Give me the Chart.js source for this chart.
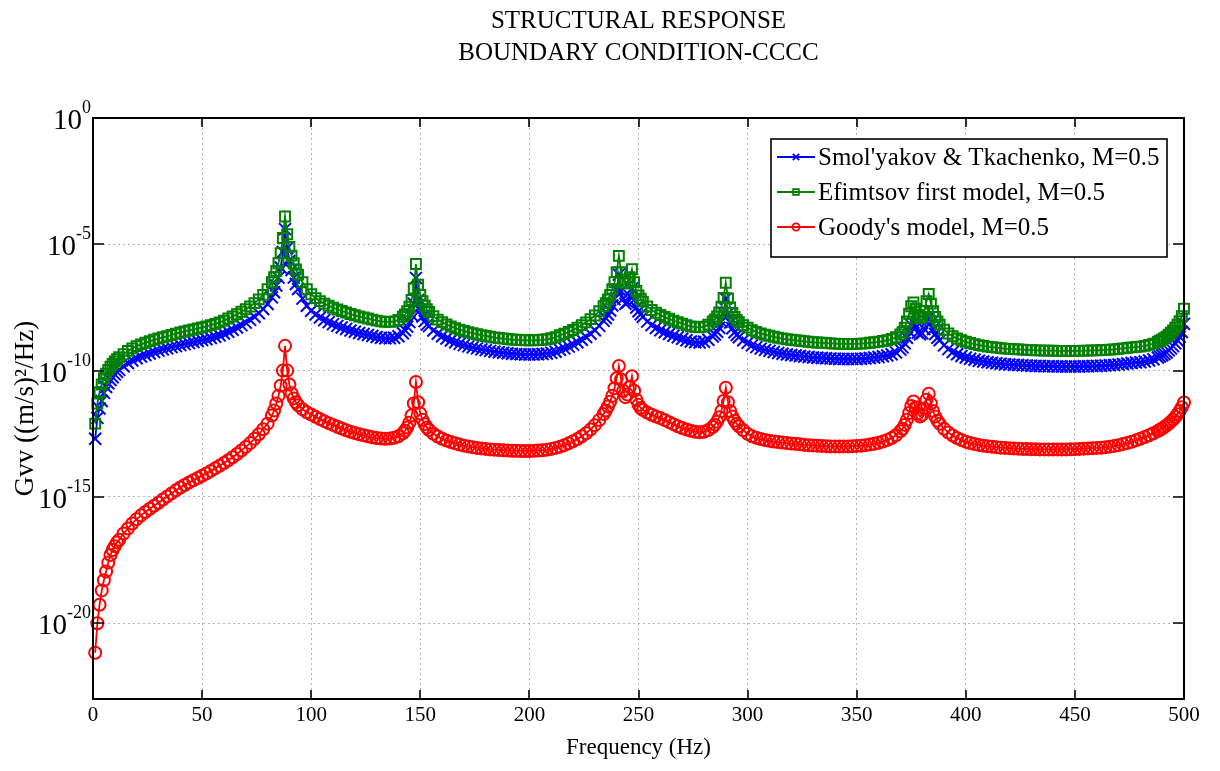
<!DOCTYPE html>
<html>
<head>
<meta charset="utf-8">
<title>Structural response - CCCC</title>
<script src="https://cdn.jsdelivr.net/npm/chart.js@4.4.1/dist/chart.umd.min.js"></script>
<style>
  html, body { margin: 0; padding: 0; background: #fff; }
  #wrap { width: 1220px; height: 771px; position: relative; }
</style>
</head>
<body>
<div id="wrap"><canvas id="gvv"></canvas></div>
<script>
const SERIF = "'Liberation Serif', 'Times New Roman', serif";

const titleLines = ['STRUCTURAL RESPONSE', 'BOUNDARY CONDITION-CCCC'];
const seriesNames = ["Smol'yakov & Tkachenko, M=0.5", 'Efimtsov first model, M=0.5', "Goody's model, M=0.5"];
const xTicksHz = [0, 50, 100, 150, 200, 250, 300, 350, 400, 450, 500];
const yTickExps = [0, -5, -10, -15, -20];

// frequency samples (Hz), finer around the resonances
const freqHz = [
  1, 2, 3, 4, 5, 6, 7, 8, 9, 10, 11, 12,
  14, 16, 18, 20, 22, 24, 26, 28, 30, 32, 34, 36, 38, 40, 42, 44, 46, 48,
  50, 52, 54, 56, 58, 60, 62, 64, 66, 68, 70, 72, 74, 76, 78, 80, 82,
  83, 84, 85, 86, 87, 88, 89, 90, 91, 92, 93, 94,
  96, 98, 100, 102, 104, 106, 108, 110, 112, 114, 116, 118, 120, 122, 124, 126, 128, 130, 132, 134, 136, 138, 140, 142,
  143, 144, 145, 146, 147, 148, 149, 150, 151, 152, 153,
  154, 156, 158, 160, 162, 164, 166, 168, 170, 172, 174, 176, 178, 180, 182, 184, 186, 188, 190, 192, 194,
  196, 198, 200, 202, 204, 206, 208, 210, 212, 214, 216, 218, 220, 222, 224, 226, 228, 230, 232, 234,
  235, 236, 237, 238, 239, 240, 241, 242, 243, 244, 245, 246, 247, 248, 249, 250, 251,
  252, 254, 256, 258, 260, 262, 264, 266, 268, 270, 272, 274, 276, 278, 280, 282, 284,
  285, 286, 287, 288, 289, 290, 291, 292, 293, 294, 295,
  296, 298, 300, 302, 304, 306, 308, 310, 312, 314, 316, 318, 320, 322, 324, 326, 328, 330, 332, 334,
  336, 338, 340, 342, 344, 346, 348, 350, 352, 354, 356, 358, 360, 362, 364, 366, 368, 370,
  371, 372, 373, 374, 375, 376, 377, 378, 379, 380, 381, 382, 383, 384, 385, 386, 387, 388,
  390, 392, 394, 396, 398, 400, 402, 404, 406, 408, 410, 412, 414, 416, 418, 420, 422, 424, 426, 428, 430, 432, 434, 436, 438,
  440, 442, 444, 446, 448, 450, 452, 454, 456, 458, 460, 462, 464, 466, 468, 470, 472, 474, 476, 478, 480, 482, 484, 486, 488,
  489, 490, 491, 492, 493, 494, 495, 496, 497, 498, 499, 500
];

// log10 of Gvv, Smol'yakov & Tkachenko
const smolyakovLog = [
  -12.7, -11.87, -11.5, -11.2, -10.88, -10.65, -10.5, -10.37, -10.26, -10.15, -10.05, -9.97,
  -9.83, -9.7, -9.6, -9.51, -9.44, -9.38, -9.32, -9.26, -9.21, -9.16, -9.12, -9.07, -9.03, -8.99, -8.95, -8.91, -8.87, -8.83,
  -8.79, -8.76, -8.71, -8.66, -8.6, -8.53, -8.46, -8.38, -8.29, -8.2, -8.1, -7.99, -7.87, -7.73, -7.56, -7.36, -7.1,
  -6.9, -6.63, -6.32, -5.92, -5.3, -4.4, -5.15, -5.66, -6.02, -6.32, -6.57, -6.77,
  -7.15, -7.43, -7.63, -7.78, -7.9, -8.0, -8.08, -8.16, -8.23, -8.29, -8.35, -8.41, -8.46, -8.51, -8.55, -8.59, -8.63, -8.67, -8.7, -8.72, -8.72, -8.7, -8.64, -8.52,
  -8.4, -8.26, -8.08, -7.8, -7.35, -6.33, -7.2, -7.6, -7.86, -8.04, -8.18,
  -8.24, -8.41, -8.54, -8.64, -8.73, -8.81, -8.88, -8.94, -8.99, -9.04, -9.08, -9.12, -9.16, -9.19, -9.22, -9.25, -9.27, -9.29, -9.31, -9.33, -9.34,
  -9.35, -9.36, -9.36, -9.36, -9.35, -9.34, -9.32, -9.29, -9.25, -9.18, -9.12, -9.05, -8.97, -8.88, -8.78, -8.67, -8.54, -8.4, -8.23, -8.03,
  -7.92, -7.78, -7.62, -7.42, -7.17, -6.8, -6.2, -6.85, -7.15, -7.35, -7.3, -7.05, -6.75, -7.2, -7.5, -7.65, -7.77,
  -7.87, -8.06, -8.2, -8.31, -8.4, -8.48, -8.55, -8.62, -8.68, -8.74, -8.8, -8.85, -8.88, -8.89, -8.86, -8.78, -8.65,
  -8.57, -8.46, -8.3, -8.07, -7.72, -7.15, -7.74, -8.1, -8.32, -8.48, -8.59,
  -8.68, -8.8, -8.9, -9.0, -9.07, -9.13, -9.18, -9.22, -9.26, -9.3, -9.33, -9.36, -9.38, -9.4, -9.42, -9.44, -9.46, -9.48, -9.49, -9.5,
  -9.51, -9.52, -9.53, -9.54, -9.54, -9.54, -9.54, -9.54, -9.53, -9.52, -9.5, -9.48, -9.46, -9.43, -9.4, -9.35, -9.28, -9.17,
  -9.08, -8.92, -8.7, -8.45, -8.2, -8.1, -8.3, -8.5, -8.56, -8.52, -8.35, -8.05, -7.9, -8.1, -8.35, -8.55, -8.7, -8.8,
  -9.0, -9.15, -9.26, -9.35, -9.42, -9.48, -9.53, -9.57, -9.61, -9.64, -9.67, -9.69, -9.71, -9.73, -9.75, -9.76, -9.77, -9.78, -9.79, -9.8, -9.81, -9.82, -9.82, -9.83, -9.83,
  -9.83, -9.84, -9.84, -9.84, -9.84, -9.84, -9.84, -9.83, -9.83, -9.82, -9.82, -9.81, -9.8, -9.79, -9.78, -9.76, -9.74, -9.72, -9.7, -9.68, -9.67, -9.64, -9.6, -9.55, -9.48,
  -9.44, -9.39, -9.34, -9.28, -9.2, -9.12, -9.03, -8.92, -8.8, -8.66, -8.47, -8.15
];

// log10 of Gvv, Efimtsov first model
const efimtsovLog = [
  -12.1, -11.3, -10.85, -10.55, -10.3, -10.12, -9.97, -9.85, -9.74, -9.64, -9.55, -9.47,
  -9.35, -9.22, -9.12, -9.03, -8.96, -8.9, -8.84, -8.78, -8.73, -8.68, -8.64, -8.59, -8.54, -8.49, -8.45, -8.41, -8.37, -8.33,
  -8.29, -8.25, -8.2, -8.15, -8.09, -8.02, -7.94, -7.86, -7.77, -7.67, -7.57, -7.46, -7.33, -7.18, -7.0, -6.78, -6.5,
  -6.3, -6.05, -5.75, -5.35, -4.75, -3.9, -4.6, -5.1, -5.45, -5.75, -6.0, -6.2,
  -6.5, -6.78, -6.98, -7.13, -7.25, -7.35, -7.43, -7.51, -7.58, -7.64, -7.7, -7.76, -7.81, -7.86, -7.9, -7.94, -7.98, -8.02, -8.05, -8.07, -8.07, -8.05, -7.99, -7.87,
  -7.78, -7.65, -7.47, -7.2, -6.75, -5.78, -6.6, -7.0, -7.25, -7.43, -7.57,
  -7.68, -7.85, -7.98, -8.08, -8.17, -8.25, -8.32, -8.38, -8.43, -8.48, -8.52, -8.56, -8.6, -8.63, -8.66, -8.69, -8.71, -8.73, -8.75, -8.77, -8.78,
  -8.79, -8.8, -8.8, -8.8, -8.79, -8.78, -8.76, -8.72, -8.68, -8.6, -8.54, -8.47, -8.39, -8.3, -8.2, -8.09, -7.96, -7.82, -7.65, -7.45,
  -7.33, -7.18, -7.0, -6.78, -6.5, -6.1, -5.46, -6.1, -6.4, -6.55, -6.5, -6.3, -5.99, -6.5, -6.85, -7.02, -7.15,
  -7.27, -7.46, -7.6, -7.71, -7.8, -7.88, -7.95, -8.02, -8.08, -8.14, -8.2, -8.25, -8.28, -8.29, -8.26, -8.18, -8.05,
  -7.97, -7.86, -7.7, -7.47, -7.12, -6.52, -7.14, -7.5, -7.72, -7.88, -7.99,
  -8.08, -8.2, -8.3, -8.4, -8.47, -8.53, -8.58, -8.62, -8.66, -8.7, -8.73, -8.76, -8.78, -8.8, -8.82, -8.84, -8.86, -8.88, -8.89, -8.9,
  -8.91, -8.92, -8.93, -8.94, -8.94, -8.94, -8.94, -8.94, -8.93, -8.92, -8.9, -8.88, -8.86, -8.83, -8.8, -8.75, -8.68, -8.57,
  -8.48, -8.3, -8.05, -7.75, -7.45, -7.3, -7.55, -7.8, -7.92, -7.88, -7.65, -7.25, -6.97, -7.35, -7.65, -7.88, -8.05, -8.18,
  -8.38, -8.53, -8.64, -8.73, -8.8, -8.86, -8.91, -8.95, -8.99, -9.02, -9.05, -9.07, -9.09, -9.11, -9.13, -9.14, -9.15, -9.16, -9.17, -9.18, -9.19, -9.2, -9.2, -9.21, -9.21,
  -9.21, -9.22, -9.22, -9.22, -9.22, -9.22, -9.22, -9.21, -9.21, -9.2, -9.2, -9.19, -9.18, -9.17, -9.16, -9.14, -9.12, -9.1, -9.08, -9.06, -9.05, -9.02, -8.98, -8.93, -8.86,
  -8.82, -8.77, -8.72, -8.66, -8.58, -8.5, -8.41, -8.3, -8.18, -8.04, -7.85, -7.55
];

// log10 of Gvv, Goody's model
const goodyLog = [
  -21.17, -20.0, -19.27, -18.7, -18.3, -17.95, -17.6, -17.3, -17.1, -16.95, -16.8, -16.7,
  -16.45, -16.25, -16.05, -15.88, -15.73, -15.6, -15.47, -15.35, -15.23, -15.1, -14.98, -14.86, -14.74, -14.63, -14.53, -14.43, -14.34, -14.25,
  -14.16, -14.07, -13.97, -13.87, -13.77, -13.66, -13.55, -13.43, -13.3, -13.16, -13.02, -12.87, -12.7, -12.52, -12.32, -12.1, -11.78,
  -11.58, -11.3, -11.0, -10.6, -10.0, -9.02, -10.0, -10.55, -10.9, -11.1, -11.25, -11.37,
  -11.53, -11.65, -11.74, -11.83, -11.92, -12.0, -12.08, -12.15, -12.22, -12.29, -12.36, -12.42, -12.47, -12.52, -12.56, -12.6, -12.64, -12.67, -12.69, -12.7, -12.69, -12.66, -12.6, -12.48,
  -12.38, -12.25, -12.06, -11.78, -11.3, -10.45, -11.25, -11.7, -11.95, -12.12, -12.25,
  -12.35, -12.5, -12.61, -12.7, -12.77, -12.83, -12.88, -12.93, -12.97, -13.0, -13.03, -13.06, -13.08, -13.1, -13.12, -13.13, -13.14, -13.15, -13.16, -13.17, -13.17,
  -13.18, -13.18, -13.18, -13.17, -13.16, -13.15, -13.13, -13.1, -13.06, -13.01, -12.95, -12.88, -12.8, -12.71, -12.6, -12.48, -12.33, -12.16, -11.96, -11.72,
  -11.58, -11.42, -11.23, -11.0, -10.7, -10.3, -9.82, -10.35, -10.8, -11.05, -10.95, -10.65, -10.22, -10.8, -11.15, -11.35, -11.48,
  -11.56, -11.66, -11.75, -11.82, -11.88, -11.96, -12.04, -12.12, -12.2, -12.27, -12.33, -12.38, -12.42, -12.44, -12.42, -12.35, -12.23,
  -12.14, -12.02, -11.85, -11.6, -11.2, -10.68, -11.25, -11.6, -11.82, -11.98, -12.1,
  -12.2, -12.36, -12.5, -12.6, -12.66, -12.71, -12.75, -12.78, -12.81, -12.83, -12.85, -12.87, -12.89, -12.9, -12.92, -12.94, -12.95, -12.96, -12.97, -12.98,
  -12.99, -13.0, -13.0, -13.0, -13.0, -13.0, -12.99, -12.98, -12.97, -12.95, -12.93, -12.9, -12.86, -12.81, -12.75, -12.67, -12.56, -12.4,
  -12.3, -12.15, -11.95, -11.68, -11.4, -11.22, -11.45, -11.7, -11.82, -11.75, -11.5, -11.15, -10.92, -11.3, -11.6, -11.82, -11.98, -12.1,
  -12.3, -12.45, -12.57, -12.67, -12.75, -12.82, -12.87, -12.91, -12.94, -12.97, -12.99, -13.01, -13.03, -13.05, -13.06, -13.07, -13.08, -13.09, -13.1, -13.1, -13.11, -13.11, -13.12, -13.12, -13.12,
  -13.12, -13.12, -13.12, -13.12, -13.11, -13.11, -13.1, -13.09, -13.08, -13.07, -13.06, -13.05, -13.03, -13.01, -12.98, -12.95, -12.91, -12.87, -12.82, -12.76, -12.7, -12.63, -12.56, -12.48, -12.39,
  -12.34, -12.29, -12.23, -12.17, -12.1, -12.02, -11.94, -11.84, -11.73, -11.6, -11.45, -11.26
];

const toPoints = (logs) => freqHz.map((f, i) => ({ x: f, y: Math.pow(10, logs[i]) }));

function series(label, logs, color, style, radius, legendRadius, order) {
  return {
    label,
    data: toPoints(logs),
    borderColor: color,
    borderWidth: 1.8,
    backgroundColor: color,
    pointStyle: style,
    pointRadius: radius,
    pointBorderColor: color,
    pointBackgroundColor: 'rgba(0,0,0,0)',
    pointBorderWidth: 2,
    tension: 0,
    fill: false,
    clip: 8,
    order,
    legendRadius
  };
}

const datasets = [
  series(seriesNames[0], smolyakovLog, '#0000ff', 'crossRot', 8.5, 4.5, 3),
  series(seriesNames[1], efimtsovLog, '#008000', 'rect', 7, 4, 2),
  series(seriesNames[2], goodyLog, '#ff0000', 'circle', 6, 3.6, 1)
];

// box, inward ticks, 10^n labels and the in-plot legend
const framePlugin = {
  id: 'frame',
  afterDraw(chart) {
    const { ctx, chartArea: a, scales: { x, y } } = chart;
    ctx.save();

    ctx.strokeStyle = '#000';
    ctx.lineWidth = 2;
    ctx.strokeRect(a.left, a.top, a.right - a.left, a.bottom - a.top);

    ctx.lineWidth = 1.6;
    ctx.beginPath();
    xTicksHz.forEach(v => {
      const px = Math.round(x.getPixelForValue(v));
      ctx.moveTo(px, a.bottom); ctx.lineTo(px, a.bottom - 9);
      ctx.moveTo(px, a.top); ctx.lineTo(px, a.top + 9);
    });
    yTickExps.forEach(e => {
      const py = Math.round(y.getPixelForValue(Math.pow(10, e)));
      ctx.moveTo(a.left, py); ctx.lineTo(a.left + 11, py);
      ctx.moveTo(a.right, py); ctx.lineTo(a.right - 11, py);
    });
    ctx.stroke();

    ctx.fillStyle = '#000';
    ctx.textAlign = 'right';
    ctx.textBaseline = 'alphabetic';
    yTickExps.forEach(e => {
      const py = y.getPixelForValue(Math.pow(10, e));
      const sup = String(e);
      const right = a.left - 2;
      ctx.font = `18px ${SERIF}`;
      const supW = ctx.measureText(sup).width;
      ctx.fillText(sup, right, py - 5);
      ctx.font = `29px ${SERIF}`;
      ctx.fillText('10', right - supW, py + 11);
    });

    // legend
    const box = { left: a.right - 413, top: a.top + 21, w: 396, h: 118 };
    ctx.fillStyle = '#fff';
    ctx.fillRect(box.left, box.top, box.w, box.h);
    ctx.lineWidth = 1.6;
    ctx.strokeStyle = '#000';
    ctx.strokeRect(box.left, box.top, box.w, box.h);
    datasets.forEach((ds, i) => {
      const cy = box.top + 18 + i * 35;
      ctx.strokeStyle = ds.borderColor;
      ctx.lineWidth = 1.8;
      ctx.beginPath();
      ctx.moveTo(box.left + 6, cy);
      ctx.lineTo(box.left + 44, cy);
      ctx.stroke();
      ctx.fillStyle = 'rgba(0,0,0,0)';
      Chart.helpers.drawPoint(ctx, { pointStyle: ds.pointStyle, radius: ds.legendRadius, borderWidth: 1.6, rotation: 0 }, box.left + 25, cy);
      ctx.fillStyle = '#000';
      ctx.font = `25px ${SERIF}`;
      ctx.textAlign = 'left';
      ctx.textBaseline = 'middle';
      ctx.fillText(ds.label, box.left + 47, cy + 1);
    });

    ctx.restore();
  }
};

Chart.defaults.font.family = SERIF;
Chart.defaults.color = '#000';

new Chart(document.getElementById('gvv'), {
  type: 'line',
  data: { datasets },
  options: {
    responsive: true,
    maintainAspectRatio: false,
    animation: false,
    events: [],
    parsing: false,
    layout: { padding: { left: 0, right: 36, top: 0, bottom: 0 } },
    plugins: {
      legend: { display: false },
      tooltip: { enabled: false },
      title: {
        display: true,
        text: titleLines,
        fullSize: false,
        color: '#000',
        font: { family: SERIF, size: 25, weight: 'normal', lineHeight: 1.3 },
        padding: { top: 5, bottom: 48 }
      }
    },
    scales: {
      x: {
        type: 'linear',
        min: 0,
        max: 500,
        afterFit: (scale) => { scale.height = 72; },
        afterBuildTicks: (scale) => { scale.ticks = xTicksHz.map(v => ({ value: v })); },
        ticks: { font: { size: 21 }, color: '#000', padding: 4, maxRotation: 0, autoSkip: false },
        grid: { color: '#b4b4b4', lineWidth: 1, drawTicks: false },
        border: { display: false, dash: [2, 3] },
        title: {
          display: true,
          text: 'Frequency (Hz)',
          color: '#000',
          font: { size: 23 },
          padding: { top: 0, bottom: 9 }
        }
      },
      y: {
        type: 'logarithmic',
        min: 1e-23,
        max: 1,
        afterFit: (scale) => { scale.width = 93; },
        afterBuildTicks: (scale) => { scale.ticks = yTickExps.map(e => ({ value: Math.pow(10, e) })); },
        ticks: { display: false },
        grid: { color: '#b4b4b4', lineWidth: 1, drawTicks: false },
        border: { display: false, dash: [2, 3] },
        title: {
          display: true,
          text: 'Gvv ((m/s)\u00b2/Hz)',
          color: '#000',
          font: { size: 27 },
          padding: { top: 10, bottom: 0 }
        }
      }
    }
  },
  plugins: [framePlugin]
});
</script>
</body>
</html>
